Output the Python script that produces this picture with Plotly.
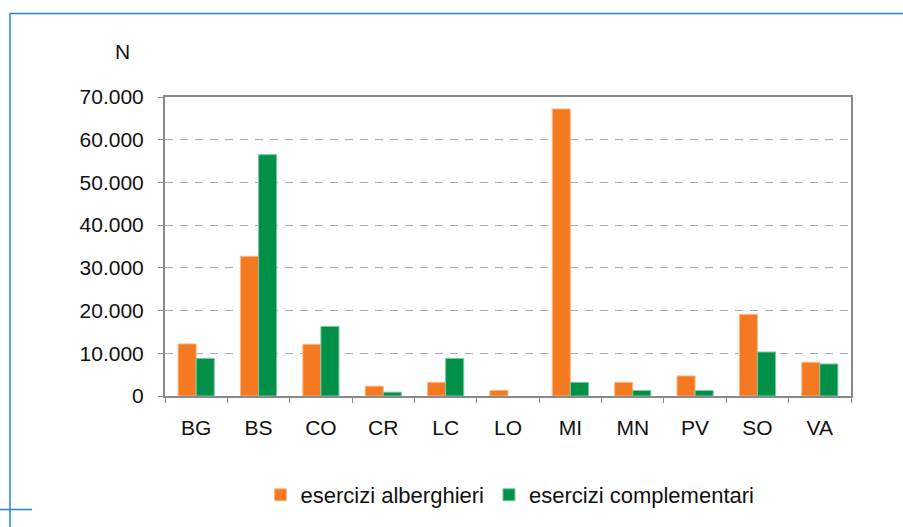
import plotly.graph_objects as go

categories = ["BG", "BS", "CO", "CR", "LC", "LO", "MI", "MN", "PV", "SO", "VA"]
alberghieri = [12200, 32700, 12100, 2300, 3200, 1300, 67200, 3200, 4700, 19100, 7900]
complementari = [8800, 56500, 16300, 900, 8800, 0, 3200, 1300, 1300, 10300, 7500]
y_ticks = [0, 10000, 20000, 30000, 40000, 50000, 60000, 70000]

FONT = "Liberation Sans, Arial, Helvetica, sans-serif"

fig = go.Figure()
fig.add_trace(go.Bar(
    x=categories, y=alberghieri, name="esercizi alberghieri",
    marker=dict(color="#F47920",
                line=dict(color="#FAB98A", width=[1 if v > 0 else 0 for v in alberghieri])),
))
fig.add_trace(go.Bar(
    x=categories, y=complementari, name="esercizi complementari",
    marker=dict(color="#00904A",
                line=dict(color="#7FC7A2", width=[1 if v > 0 else 0 for v in complementari])),
))

L, T, R, B = 165, 97, 52, 130
W, H = 903, 527
pw, ph = W - L - R, H - T - B

def px(x):
    return (x - L) / pw

def py(y):
    return (H - B - y) / ph

blue = "#2483D4"
shapes = [
    dict(type="line", xref="paper", yref="paper", x0=px(10), x1=px(910), y0=py(13.3), y1=py(13.3),
         line=dict(color=blue, width=1.5)),
    dict(type="line", xref="paper", yref="paper", x0=px(10), x1=px(10), y0=py(13.3), y1=py(535),
         line=dict(color=blue, width=1.5)),
    dict(type="line", xref="paper", yref="paper", x0=px(-5), x1=px(32), y0=py(511), y1=py(511),
         line=dict(color=blue, width=1.5)),
]

fig.update_layout(
    width=W, height=H,
    margin=dict(l=L, r=R, t=T, b=B, pad=0),
    paper_bgcolor="white", plot_bgcolor="white",
    separators=",.",
    font=dict(family=FONT, size=21, color="#111111"),
    barmode="group", bargap=0.42, bargroupgap=0,
    showlegend=True,
    legend=dict(orientation="h", x=0.503, xanchor="center", y=py(495), yanchor="middle",
                font=dict(size=22), itemclick=False, traceorder="normal"),
    shapes=shapes,
    annotations=[dict(text="N", xref="paper", yref="paper", x=px(122), y=py(51),
                      showarrow=False, font=dict(size=21), xanchor="center", yanchor="middle")],
)
fig.update_yaxes(
    range=[0, 70000], tickvals=y_ticks, tickformat=",.0f",
    showgrid=True, gridcolor="#ABABAB", gridwidth=1, griddash="8px,7px",
    showline=True, linecolor="#8A8A8A", linewidth=2, mirror=True,
    ticks="outside", ticklen=5, tickcolor="#8A8A8A", ticklabelstandoff=10,
    zeroline=False,
)
fig.update_xaxes(
    showline=True, linecolor="#8A8A8A", linewidth=2, mirror=True,
    ticks="outside", ticklen=5, tickcolor="#8A8A8A", tickson="boundaries",
    ticklabelstandoff=12, showgrid=False,
)

fig.write_html(
    "out.html",
    config={"displayModeBar": False},
    post_script="document.body.style.margin='0';document.body.style.overflow='hidden';",
)
